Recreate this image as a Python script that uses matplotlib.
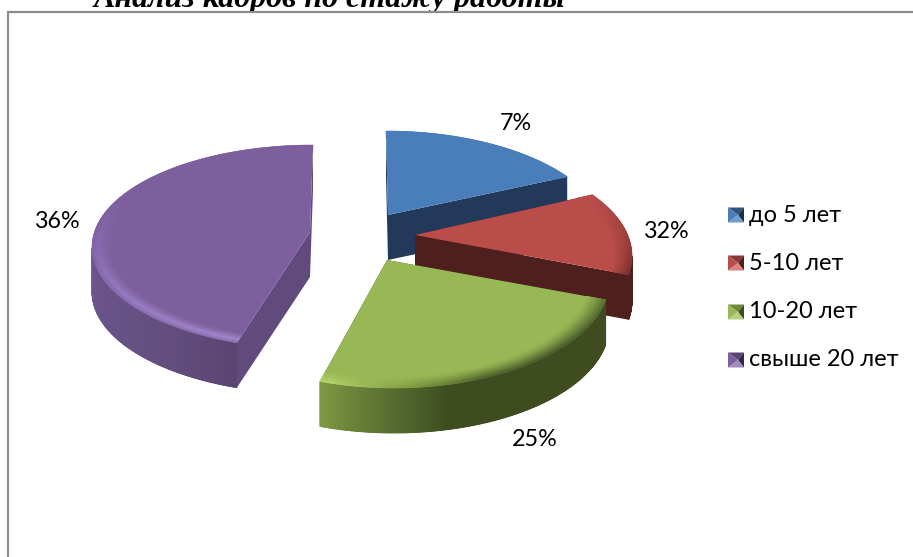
import numpy as np
import matplotlib
matplotlib.use('Agg')
import matplotlib.pyplot as plt
from matplotlib.collections import PolyCollection
from matplotlib.colors import to_rgb
from matplotlib.patches import Polygon, Rectangle

title = 'Анализ кадров по стажу работы'
categories = ['до 5 лет', '5-10 лет', '10-20 лет', 'свыше 20 лет']
pct_labels = [7, 32, 25, 36]  # what the chart prints
slice_shares = [15.3, 12.5, 27.8, 44.4]  # what the slices really measure

base_cols = ['#4a7ebb', '#ba4d4a', '#98b855', '#7e5f9d']
face_cols = ['#22395a', '#4f1f1e', '#3e4c20', '#614b7c']
# centre of ellipse, radii and apex of each exploded slice, in pixels
centres = [(386, 238), (411, 256), (394, 281), (313, 247)]
radii = [(221, 107), (221, 107), (215, 107), (221, 102)]
apexes = [(388, 215), (415, 235), (387, 260), (310, 232)]
DEPTH = 45
BEVEL = 0.09
bevel_peak = [1, 1, 1, 0.7]

# colour stops (angle clockwise from top, colour) for the rim and outer wall
rim_stops = [
    [(0, '#4a7ebb'), (360, '#4a7ebb')],
    [(55, '#ba4d4a'), (75, '#a0413e'), (100, '#7a302e')],
    [(100, '#5a7030'), (125, '#46582a'), (155, '#4a5d28'), (175, '#7c9740'), (198, '#b5d66c')],
    [(200, '#a48ad0'), (235, '#9a80c8'), (265, '#8a6fb5'), (300, '#7e5f9d')],
]
wall_stops = [
    [(0, '#22395a'), (360, '#22395a')],
    [(55, '#4f1f1e'), (100, '#4f1f1e')],
    [(100, '#3e4c20'), (165, '#3e4c20'), (180, '#566c2f'), (192, '#6d853a'), (200, '#7f9a45')],
    [(200, '#5a4472'), (225, '#64507f'), (270, '#6d5690')],
]
key_cols = [
    ['#2f5480', '#1c2f4a', '#4a7ebb', '#6f9bd0'],
    ['#8a3836', '#4f1f1e', '#ba4d4a', '#d98280'],
    ['#6f8a3c', '#3e4c20', '#98b855', '#b8d07e'],
    ['#5a4472', '#33264a', '#7e5f9d', '#a08bbd'],
]
label_pos = [(516, 123), (667, 231), (535, 440), (58, 221)]
legend_y = [215, 263, 312, 360]

plt.rcParams['font.family'] = ['Lato', 'Open Sans', 'DejaVu Sans']


def stop_colour(stops, t):
    ts = [s[0] for s in stops]
    cs = np.array([to_rgb(s[1]) for s in stops])
    return [np.interp(t, ts, cs[:, i]) for i in range(3)]


def rim_point(c, rad, t):
    a = np.radians(t)
    return np.array([c[0] + rad[0] * np.sin(a), c[1] - rad[1] * np.cos(a)])


fig = plt.figure(figsize=(9.13, 5.57), dpi=100)
ax = fig.add_axes([0, 0, 1, 1])
ax.set_xlim(0, 913)
ax.set_ylim(557, 0)
ax.axis('off')

ax.text(330, 7, title, family='Liberation Serif', weight='bold', style='italic',
        fontsize=23, ha='center', va='baseline', color='black', zorder=1)
ax.add_patch(Rectangle((7.5, 12), 1000, 700, fc='white', ec='#8c8c8c', lw=1.6, zorder=2))

ends = np.cumsum(slice_shares) * 3.6
starts = np.r_[0, ends[:-1]]
z = 3
dz = np.array([0, DEPTH])
for i in range(len(categories)):
    c, rad, apex = centres[i], radii[i], np.array(apexes[i])
    t0, t1 = starts[i], ends[i]
    ts = np.linspace(t0, t1, 160)

    # cut faces
    for t in (t0, t1):
        p = rim_point(c, rad, t)
        ax.add_patch(Polygon([apex, p, p + dz, apex + dz], fc=face_cols[i], ec='none', zorder=z))

    # outer wall: solid underlay, then strips so the shading changes along the arc
    vis = ts[(ts >= 90) & (ts <= 270)]
    if len(vis) > 1:
        outline = [rim_point(c, rad, t) for t in vis]
        outline += [rim_point(c, rad, t) + dz for t in vis[::-1]]
        ax.add_patch(Polygon(outline, fc=stop_colour(wall_stops[i], vis.mean()), ec='none', zorder=z))
        quads, cols = [], []
        for a, b in zip(vis[:-1], vis[1:]):
            pa, pb = rim_point(c, rad, a), rim_point(c, rad, b)
            quads.append([pa, pb, pb + dz, pa + dz])
            cols.append(stop_colour(wall_stops[i], (a + b) / 2))
        ax.add_collection(PolyCollection(quads, facecolors=cols, edgecolors=cols, linewidths=0.6, zorder=z))

    # top face
    top = [apex] + [rim_point(c, rad, t) for t in ts]
    ax.add_patch(Polygon(top, fc=base_cols[i], ec='none', zorder=z))

    # bevel along the rim
    quads, cols = [], []
    base = np.array(to_rgb(base_cols[i]))
    fracs = np.linspace(1 - BEVEL, 1, 11)
    peak = bevel_peak[i]
    for r0, r1 in zip(fracs[:-1], fracs[1:]):
        s = ((r0 + r1) / 2 - (1 - BEVEL)) / BEVEL
        k = (s / peak) ** 1.3 if s < peak else 1 - 0.6 * (s - peak) / (1 - peak)
        for a, b in zip(ts[:-1], ts[1:]):
            pa, pb = rim_point(c, rad, a) - apex, rim_point(c, rad, b) - apex
            quads.append([apex + pa * r0, apex + pb * r0, apex + pb * r1, apex + pa * r1])
            rim = np.array(stop_colour(rim_stops[i], (a + b) / 2))
            cols.append(base + (rim - base) * k)
    ax.add_collection(PolyCollection(quads, facecolors=cols, edgecolors=cols, linewidths=0.4, zorder=z))
    z += 1

for pct, (x, y) in zip(pct_labels, label_pos):
    ax.text(x, y, f'{pct}%', fontsize=16.8, ha='center', va='center', color='black', zorder=10)

for name, y, kc in zip(categories, legend_y, key_cols):
    x0, x1, y0, y1 = 728, 744, y - 7.5, y + 7.5
    mid = ((x0 + x1) / 2 + 2, y)
    ax.add_patch(Polygon([(x0, y0), (x1, y0), mid], fc=kc[0], ec='none', zorder=10))
    ax.add_patch(Polygon([(x1, y0), (x1, y1), mid], fc=kc[1], ec='none', zorder=10))
    ax.add_patch(Polygon([(x0, y0), (x0, y1), mid], fc=kc[2], ec='none', zorder=10))
    ax.add_patch(Polygon([(x0, y1), (x1, y1), mid], fc=kc[3], ec='none', zorder=10))
    ax.text(749, y, name, fontsize=17, ha='left', va='center', color='black', zorder=10)

fig.savefig('out.png', dpi=100)
